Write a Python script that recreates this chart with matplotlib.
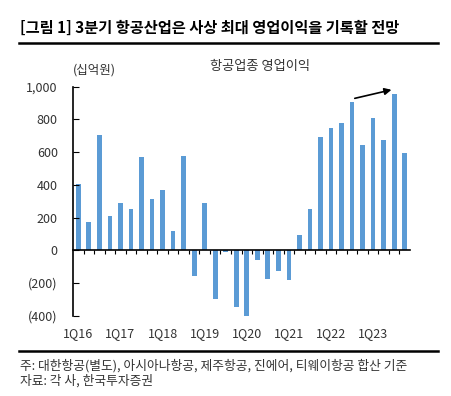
import matplotlib
matplotlib.use('Agg')
from matplotlib import pyplot as plt
import numpy as np

plt.rcParams['font.family'] = ['Noto Sans CJK KR', 'DejaVu Sans']

quarters = [f'{q}Q{y}' for y in range(16, 24) for q in range(1, 5)]
profit = [405, 175, 705, 210, 290, 250, 570, 315, 370, 120, 575, -160,
          290, -300, -10, -350, -400, -60, -175, -125, -180, 95, 250, 690,
          745, 780, 905, 642, 807, 675, 953, 594]
yticks = [-400, -200, 0, 200, 400, 600, 800, 1000]
ylabels = ['(400)', '(200)', '0', '200', '400', '600', '800', '1,000']

fig = plt.figure(figsize=(4.51, 3.96), dpi=100)
ax = fig.add_axes([0.162, 0.203, 0.747, 0.578])

x = np.arange(len(profit))
ax.bar(x, profit, width=0.45, color='#5b9bd5')

ax.set_xlim(-0.5, len(profit) - 0.5)
ax.set_ylim(-400, 1000)
ax.set_yticks(yticks)
ax.set_yticklabels(ylabels, fontsize=9, color='#333333')
ax.tick_params(axis='y', direction='in', length=4, pad=11)

for s in ['top', 'right']:
    ax.spines[s].set_visible(False)
ax.spines['bottom'].set_position(('data', 0))
ax.spines['bottom'].set_linewidth(1.2)
ax.spines['left'].set_linewidth(1.2)
ax.set_xticks(x[:-1] + 0.5)
ax.tick_params(axis='x', direction='out', length=3, labelbottom=False)

sec = ax.secondary_xaxis(0.0)
sec.set_xticks(x[::4])
sec.set_xticklabels(quarters[::4], fontsize=9, color='#333333')
sec.tick_params(length=0, pad=8)
sec.spines['bottom'].set_visible(False)

# arrow marking the rising peaks
ax.annotate('', xy=(30, 985), xytext=(26, 925),
            arrowprops=dict(arrowstyle='-|>', color='black', lw=1.2,
                            mutation_scale=10))

fig.text(0.576, 0.833, '항공업종 영업이익', ha='center', va='center',
         fontsize=9.5, color='#333333')
fig.text(0.209, 0.822, '(십억원)', ha='center', va='center',
         fontsize=9, color='#333333')

fig.text(0.045, 0.93, '[그림 1] 3분기 항공산업은 사상 최대 영업이익을 기록할 전망',
         ha='left', va='center', fontsize=11, fontweight='bold')
fig.add_artist(plt.Line2D([0.042, 0.972], [0.891, 0.891], color='black', lw=1.8))
fig.add_artist(plt.Line2D([0.042, 0.972], [0.114, 0.114], color='black', lw=1.8))

fig.text(0.045, 0.077, '주: 대한항공(별도), 아시아나항공, 제주항공, 진에어, 티웨이항공 합산 기준',
         ha='left', va='center', fontsize=9.2, color='#333333')
fig.text(0.045, 0.037, '자료: 각 사, 한국투자증권',
         ha='left', va='center', fontsize=9.2, color='#333333')

plt.savefig('out.png', dpi=100)
